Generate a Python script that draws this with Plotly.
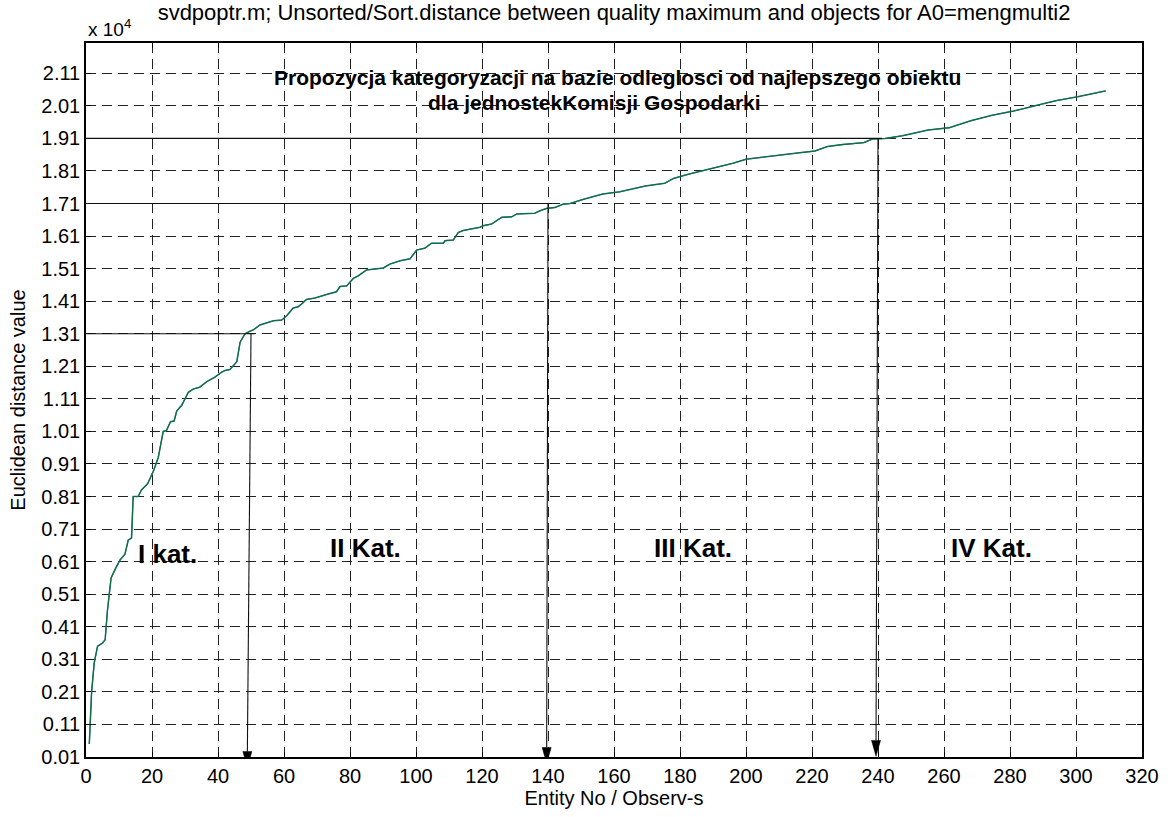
import plotly.graph_objects as go

# Sorted Euclidean distances (units of 1e4) per entity
entity_no = [1, 1.7, 2.5, 3.5, 5, 5.8, 6.5, 7.6, 9, 10.3, 11.8, 12.8, 13.8, 14.3, 15.8,
             16.8, 18.7, 20.5, 21.9, 23.4, 24.4, 25.6, 26.7, 27.5, 29, 31, 32.5, 34.5,
             36.6, 39.1, 41.1, 42.1, 43.6, 44.6, 45.7, 46.7, 48.2, 49.7, 50.7, 52.7,
             54.7, 56.8, 59.3, 60.8, 62.8, 64.3, 65.3, 66.8, 69.4, 71.4, 73.4, 75.9,
             77, 79, 81, 82.5, 85, 90.1, 92.1, 95.2, 98.2, 100.2, 102.7, 104.7, 108.3,
             108.8, 111.3, 112.8, 114.3, 119.4, 120.4, 122.9, 124.4, 126, 129, 130.5,
             136, 137.6, 139.6, 142.1, 144.6, 146.7, 150.8, 156.6, 161.8, 165.7, 169.5,
             175.4, 178, 182.5, 187.7, 192.9, 196.2, 200, 205.9, 211, 216.2, 220.8,
             224.7, 229.2, 235.7, 238.3, 242.2, 247.4, 255.2, 261.6, 268.1, 274.6,
             281.1, 287.6, 294, 300.5, 309]
distance = [0.05, 0.21, 0.30, 0.35, 0.36, 0.37, 0.46, 0.56, 0.59, 0.615, 0.633, 0.676,
            0.683, 0.81, 0.81, 0.83, 0.85, 0.89, 0.93, 1.01, 1.013, 1.04, 1.042, 1.073,
            1.09, 1.13, 1.14, 1.146, 1.163, 1.177, 1.192, 1.197, 1.2, 1.212, 1.224,
            1.284, 1.31, 1.318, 1.322, 1.337, 1.343, 1.35, 1.352, 1.365, 1.389, 1.393,
            1.401, 1.415, 1.42, 1.427, 1.432, 1.439, 1.455, 1.457, 1.48, 1.488, 1.506,
            1.512, 1.524, 1.534, 1.54, 1.567, 1.573, 1.588, 1.588, 1.596, 1.598, 1.621,
            1.627, 1.637, 1.642, 1.647, 1.657, 1.668, 1.669, 1.678, 1.68, 1.688, 1.695,
            1.698, 1.708, 1.71, 1.723, 1.739, 1.746, 1.754, 1.764, 1.772, 1.787, 1.8,
            1.813, 1.825, 1.834, 1.846, 1.854, 1.861, 1.866, 1.871, 1.885, 1.891,
            1.897, 1.908, 1.91, 1.918, 1.936, 1.943, 1.964, 1.981, 1.994, 2.01, 2.026,
            2.038, 2.056]

# Category thresholds: entity number and distance level
cut_entity = [50, 140, 240]
cut_level = [1.31, 1.71, 1.91]

# Category labels and their positions
cat_labels = ["I kat.", "II Kat.", "III Kat.", "IV Kat."]
cat_x = [24.7, 84.8, 184, 274.5]
cat_y = [0.632, 0.651, 0.651, 0.651]

x_ticks = list(range(0, 321, 20))
y_ticks = [round(0.01 + 0.1 * i, 2) for i in range(22)]
y_ticktext = ["%.2f" % v for v in y_ticks]

FONT = "Liberation Sans, Arial, sans-serif"
Y0, Y1 = 0.01, 2.203

fig = go.Figure()
fig.add_trace(go.Scatter(x=entity_no, y=distance, mode="lines",
                         line=dict(color="#2a7396", width=1.5),
                         showlegend=False, hoverinfo="skip"))
fig.add_trace(go.Scatter(x=entity_no, y=distance, mode="lines",
                         line=dict(color="#0e7036", width=1.1),
                         showlegend=False, hoverinfo="skip"))

# Horizontal guide lines from the y axis to each threshold
line_style = dict(color="#111111", width=1.1)
ends = [c + 1.2 for c in cut_entity]
for lvl, xe in zip(cut_level, ends):
    fig.add_shape(type="line", x0=0, x1=xe, y0=lvl, y1=lvl, xref="x", yref="y",
                  line=line_style)

# Vertical arrows from each threshold down to the x axis
tip_drop = [0.032, 0.02, -0.002]      # how far the tip reaches past the axis
tip_shift = [-1.1, -0.4, -0.6]        # slight lean of the arrow shaft
head_len = 16 / 326.2                 # head length in y units (~16 px)
head_half = 4.5 / 3.3                 # half head width in x units (~4.5 px)
for cx, lvl, drop, sh in zip(cut_entity, cut_level, tip_drop, tip_shift):
    tx, ty = cx + sh, Y0 - drop
    base_y = ty + head_len
    fig.add_shape(type="line", x0=cx, y0=lvl, x1=tx, y1=base_y, xref="x", yref="y",
                  line=line_style)
    fig.add_shape(type="path", xref="x", yref="y",
                  path="M %f,%f L %f,%f L %f,%f Z" % (tx, ty, tx - head_half, base_y,
                                                      tx + head_half, base_y),
                  fillcolor="#000000", line=dict(color="#000000", width=0.5))

for lab, cx, cy in zip(cat_labels, cat_x, cat_y):
    fig.add_annotation(x=cx, y=cy, xref="x", yref="y", text="<b>%s</b>" % lab,
                       showarrow=False, font=dict(family=FONT, size=26, color="black"))

fig.add_annotation(x=161.2, y=2.098, xref="x", yref="y",
                   text="<b>Propozycja kategoryzacji na bazie odleglosci od najlepszego obiektu</b>",
                   showarrow=False, font=dict(family=FONT, size=21, color="black"))
fig.add_annotation(x=154.2, y=2.021, xref="x", yref="y",
                   text="<b>dla jednostekKomisji Gospodarki</b>",
                   showarrow=False, font=dict(family=FONT, size=21, color="black"))

fig.add_annotation(x=0, y=1, xref="paper", yref="paper", xanchor="left",
                   yanchor="bottom", yshift=1, text="x 10<sup>4</sup>",
                   showarrow=False, font=dict(family=FONT, size=19, color="black"))

axis_common = dict(showline=True, linecolor="black", linewidth=1.5, mirror="ticks",
                   ticks="inside", ticklen=5, tickcolor="black",
                   showgrid=True, gridcolor="#222222", gridwidth=1, griddash="10px,6px",
                   zeroline=False, tickfont=dict(family=FONT, size=20, color="black"))

fig.update_xaxes(range=[0, 320], tickvals=x_ticks,
                 title=dict(text="Entity No / Observ-s", standoff=4,
                            font=dict(family=FONT, size=20, color="black")),
                 **axis_common)
fig.update_yaxes(range=[Y0, Y1], tickvals=y_ticks, ticktext=y_ticktext,
                 title=dict(text="Euclidean distance value", standoff=10,
                            font=dict(family=FONT, size=20, color="black")),
                 **axis_common)

fig.update_layout(
    width=1173, height=817,
    margin=dict(l=86, r=31, t=43, b=58),
    paper_bgcolor="white", plot_bgcolor="white",
    title=dict(text="svdpoptr.m; Unsorted/Sort.distance between quality maximum and objects for A0=mengmulti2",
               x=0.5235, xanchor="center", y=0.995, yanchor="top",
               font=dict(family=FONT, size=22, color="black")),
)

fig.write_html("out.html")
